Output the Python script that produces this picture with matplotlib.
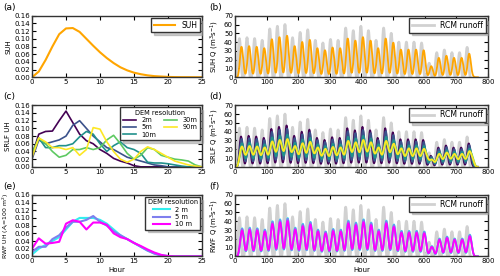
'''
Unit hydrographs and routed discharge
'''

import numpy as np
import matplotlib.pyplot as plt

# ═══ Data ═════════════════════════════════════════════════════════════════

# ─── Unit hydrographs (hours 0..25)

uh_hours = np.arange(26)

suh = [0.0, 0.015, 0.045, 0.08, 0.112, 0.127, 0.128, 0.118, 0.1, 0.082,
       0.065, 0.05, 0.037, 0.026, 0.018, 0.012, 0.008, 0.005, 0.003, 0.002,
       0.001, 0.0005, 0.0003, 0.0002, 0.0001, 0.0]

srlf_2m = [0.03, 0.085, 0.092, 0.093, 0.12, 0.145, 0.115, 0.085, 0.068, 0.06,
           0.045, 0.035, 0.022, 0.015, 0.01, 0.003, 0, 0, 0, 0, 0, 0, 0, 0, 0, 0]
srlf_5m = [0.02, 0.07, 0.06, 0.065, 0.07, 0.08, 0.108, 0.12, 0.1, 0.08,
           0.065, 0.05, 0.045, 0.035, 0.025, 0.02, 0.015, 0.01, 0.005, 0.003,
           0, 0, 0, 0, 0, 0]
srlf_10m = [0.03, 0.075, 0.05, 0.05, 0.055, 0.055, 0.06, 0.078, 0.092, 0.085,
            0.06, 0.04, 0.055, 0.065, 0.05, 0.045, 0.035, 0.012, 0.01, 0.01,
            0.008, 0.005, 0.002, 0, 0, 0]
srlf_30m = [0.035, 0.075, 0.06, 0.04, 0.025, 0.03, 0.045, 0.045, 0.05, 0.045,
            0.05, 0.07, 0.082, 0.06, 0.035, 0.02, 0.03, 0.05, 0.045, 0.03,
            0.025, 0.02, 0.018, 0.015, 0.005, 0.0]
srlf_90m = [0.025, 0.075, 0.065, 0.05, 0.05, 0.045, 0.05, 0.03, 0.045, 0.102,
            0.098, 0.065, 0.04, 0.02, 0.012, 0.02, 0.04, 0.052, 0.045, 0.035,
            0.025, 0.015, 0.01, 0.005, 0.002, 0.0]

rwf_2m = [0.005, 0.02, 0.03, 0.04, 0.05, 0.07, 0.09, 0.1, 0.1, 0.1,
          0.095, 0.085, 0.07, 0.055, 0.045, 0.035, 0.025, 0.015, 0.008, 0.003,
          0.001, 0, 0, 0, 0, 0]
rwf_5m = [0.012, 0.025, 0.025, 0.045, 0.055, 0.075, 0.09, 0.09, 0.095, 0.105,
          0.09, 0.08, 0.065, 0.055, 0.045, 0.035, 0.025, 0.015, 0.007, 0.002,
          0, 0, 0, 0, 0, 0]
rwf_10m = [0.02, 0.047, 0.033, 0.035, 0.038, 0.085, 0.094, 0.09, 0.07, 0.088,
           0.088, 0.082, 0.06, 0.05, 0.045, 0.035, 0.027, 0.018, 0.01, 0.004,
           0.001, 0, 0, 0, 0, 0]

# ─── RCM runoff: daily peak (m3/s) and relative hourly shape of one day

rcm_peaks = [44, 45, 44, 42, 55, 58, 60, 45, 51, 54, 42, 39, 43, 42, 56, 53,
             58, 53, 42, 56, 50, 40, 40, 40, 39, 16, 28, 31, 28, 28, 34]
diurnal = [0.0, 0.0, 0.0, 0.0, 0.02, 0.06, 0.13, 0.22, 0.33, 0.46, 0.6, 0.74,
           0.87, 0.96, 1.0, 0.96, 0.87, 0.74, 0.6, 0.46, 0.33, 0.22, 0.12, 0.05]

# ═══ Computation ══════════════════════════════════════════════════════════

rcm = np.concatenate([p*np.array(diurnal) for p in rcm_peaks])
t_rcm = np.arange(len(rcm))

def route(uh):
    return np.convolve(rcm, uh)

t_q = np.arange(len(rcm) + len(suh) - 1)

# ═══ Figure ═══════════════════════════════════════════════════════════════

plt.rcParams['font.size'] = 5
plt.rcParams['axes.linewidth'] = 1.0
plt.rcParams['axes.edgecolor'] = '0.2'

fig = plt.figure(figsize=(5, 2.76), dpi=100)
gs = fig.add_gridspec(3, 2, width_ratios=[170, 253], left=0.064, right=0.976,
                      bottom=0.071, top=0.943, wspace=0.156, hspace=0.455)
axes = [[fig.add_subplot(gs[i, j]) for j in range(2)] for i in range(3)]

viridis = ['#440154', '#3b528b', '#21918c', '#5ec962', '#fde725']
rwf_cols = ['#33eeee', '#7f7fee', '#ff00ff']
orange = '#ffa500'
grey = '0.82'

def style_left(ax, label, tag, lsize=5):
    ax.set_xlim(0, 25)
    ax.set_ylim(0, 0.16)
    ax.set_xticks(range(0, 26, 5))
    ax.set_yticks(np.arange(0, 0.161, 0.02))
    ax.set_yticklabels([f'{v:.2f}' for v in np.arange(0, 0.161, 0.02)])
    ax.set_ylabel(label, labelpad=2, fontsize=lsize)
    ax.text(-0.17, 1.14, tag, transform=ax.transAxes, fontsize=6.5, va='center')

def style_right(ax, label, tag):
    ax.set_xlim(0, 800)
    ax.set_ylim(0, 70)
    ax.set_xticks(range(0, 801, 100))
    ax.set_yticks(range(0, 71, 10))
    ax.set_ylabel(label, labelpad=2)
    ax.text(-0.103, 1.14, tag, transform=ax.transAxes, fontsize=6.5, va='center')

for row in axes:
    for ax in row:
        ax.tick_params(direction='in', top=True, right=True, length=3,
                       width=0.8, pad=1.5, labelsize=5)

leg_kw = dict(fancybox=False, shadow={'color': '0.6'}, borderaxespad=0.3,
              edgecolor='0.2', framealpha=1, borderpad=0.35)

# ─── (a)
ax = axes[0][0]
ax.plot(uh_hours, suh, color=orange, lw=1.5, label='SUH')
style_left(ax, 'SUH', '(a)')
ax.legend(loc='upper right', handlelength=2.8, fontsize=5.5, **leg_kw)

# ─── (b)
ax = axes[0][1]
ax.plot(t_rcm, rcm, color=grey, lw=2, label='RCM runoff')
ax.plot(t_q, route(suh), color=orange, lw=1.3)
style_right(ax, 'SUH Q (m$^3$s$^{-1}$)', '(b)')
ax.legend(loc='upper right', handlelength=2.8, fontsize=5.6, **leg_kw)

# ─── (c)
ax = axes[1][0]
srlf = [srlf_2m, srlf_5m, srlf_10m, srlf_30m, srlf_90m]
srlf_labels = ['2m', '5m', '10m', '30m', '90m']
for uh, c, lab in zip(srlf, viridis, srlf_labels):
    ax.plot(uh_hours, uh, color=c, lw=1.2, label=lab)
style_left(ax, 'SRLF UH', '(c)')
ax.legend(loc='upper right', ncol=2, title='DEM resolution', title_fontsize=4.8,
          handlelength=2, columnspacing=1.2, labelspacing=0.2, fontsize=4.8,
          **leg_kw)

# ─── (d)
ax = axes[1][1]
ax.plot(t_rcm, rcm, color=grey, lw=2, label='RCM runoff')
for uh, c in zip(srlf, viridis):
    ax.plot(t_q, route(uh), color=c, lw=1.3)
style_right(ax, 'SRLF Q (m$^3$s$^{-1}$)', '(d)')
ax.legend(loc='upper right', handlelength=2.8, fontsize=5.6, **leg_kw)

# ─── (e)
ax = axes[2][0]
rwf = [rwf_2m, rwf_5m, rwf_10m]
rwf_labels = ['2 m', '5 m', '10 m']
for uh, c, lab in zip(rwf, rwf_cols, rwf_labels):
    ax.plot(uh_hours, uh, color=c, lw=1.5, label=lab)
style_left(ax, 'RWF UH ($A_i$=100 m$^2$)', '(e)', lsize=4.4)
ax.set_xlabel('Hour', labelpad=2)
ax.legend(loc='upper right', title='DEM resolution', title_fontsize=4.8,
          handlelength=2.5, labelspacing=0.2, fontsize=4.8, **leg_kw)

# ─── (f)
ax = axes[2][1]
ax.plot(t_rcm, rcm, color=grey, lw=2, label='RCM runoff')
for uh, c in zip(rwf, rwf_cols):
    ax.plot(t_q, route(uh), color=c, lw=1.3)
style_right(ax, 'RWF Q (m$^3$s$^{-1}$)', '(f)')
ax.set_xlabel('Hour', labelpad=2)
ax.legend(loc='upper right', handlelength=2.8, fontsize=5.6, **leg_kw)

fig.savefig('out.png', dpi=100)
